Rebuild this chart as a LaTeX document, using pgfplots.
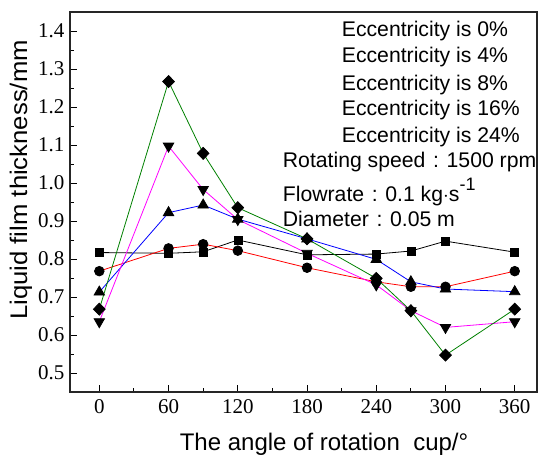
\documentclass[border=0pt]{standalone}
\usepackage{fontspec}
\setmainfont{Liberation Serif}
\newfontfamily\arial{Liberation Sans}
\usepackage{pgfplots}
\pgfplotsset{compat=1.18}
\definecolor{dgreen}{RGB}{0,128,0}
\definecolor{mag}{RGB}{255,0,255}
\begin{document}
\begin{tikzpicture}
\begin{axis}[
  scale only axis, width=467pt, height=380pt,
  xmin=-25.4, xmax=379.3, ymin=0.45, ymax=1.45,
  xtick={0,60,...,360}, minor x tick num=1,
  ytick={0.5,0.6,...,1.41}, minor y tick num=1,
  xtick pos=left, ytick pos=left,
  tick align=inside, major tick length=7pt, minor tick length=4pt,
  axis line style={line width=1.2pt, black!85},
  every tick/.style={black, line width=1pt},
  tick label style={font=\fontsize{21}{24}\selectfont},
  /pgf/number format/assume math mode=true,
  yticklabel style={/pgf/number format/fixed, /pgf/number format/fixed zerofill, /pgf/number format/precision=1, xshift=-2pt},
  xticklabel style={yshift=-4pt},
  xlabel={The angle of rotation\ \ cup/°},
  ylabel={Liquid film thickness/mm},
  xlabel style={font=\arial\fontsize{24}{28}\selectfont, at={(axis description cs:0.544,-0.137)}, anchor=center},
  ylabel style={font=\arial\fontsize{24}{28}\selectfont, xscale=1.07, at={(axis description cs:-0.105,0.558)}, anchor=center},
  clip=false,
  every axis plot/.append style={line width=0.8pt},
]
\coordinate (bl) at (rel axis cs:0,0);
\coordinate (tr) at (rel axis cs:1,1);
% 0%
\addplot[black, mark=square*, mark size=4pt, mark options={fill=black, draw=black, line width=0.5pt}] coordinates {
(0,0.817) (60,0.815) (90,0.819) (120,0.850) (180,0.811) (240,0.813) (270,0.821) (300,0.847) (360,0.818)};
% 4%
\addplot[red, mark=*, mark size=4.8pt, mark options={fill=black, draw=black}] coordinates {
(0,0.768) (60,0.828) (90,0.839) (120,0.822) (180,0.777) (240,0.740) (270,0.727) (300,0.727) (360,0.768)};
% 8%
\addplot[blue, mark=triangle*, mark size=6pt, mark options={fill=black, draw=black}] coordinates {
(0,0.713) (60,0.922) (90,0.942) (120,0.905) (180,0.853) (240,0.799) (270,0.740) (300,0.721) (360,0.714)};
% 16%
\addplot[mag, mark=triangle*, mark size=6pt, mark options={fill=black, draw=black, rotate=180}] coordinates {
(0,0.635) (60,1.097) (90,0.983) (120,0.904) (180,0.815) (240,0.732) (270,0.664) (300,0.620) (360,0.635)};
% 24%
\addplot[dgreen, mark=diamond*, mark size=6pt, mark options={fill=black, draw=black, xscale=1.3}] coordinates {
(0,0.668) (60,1.267) (90,1.078) (120,0.935) (180,0.853) (240,0.749) (270,0.664) (300,0.547) (360,0.668)};
\begin{scope}[every node/.style={font=\arial\fontsize{21.2}{24}\selectfont, anchor=base west, inner sep=0pt}]
\node at (rel axis cs:0.5818,0.9368) {Eccentricity is 0\%};
\node at (rel axis cs:0.5818,0.8658) {Eccentricity is 4\%};
\node at (rel axis cs:0.5818,0.7947) {Eccentricity is 8\%};
\node at (rel axis cs:0.5818,0.7289) {Eccentricity is 16\%};
\node at (rel axis cs:0.5818,0.6579) {Eccentricity is 24\%};
\node at (rel axis cs:0.4555,0.5921) {Rotating speed\makebox[1em]{:}1500 rpm};
\node at (rel axis cs:0.4555,0.5008) {Flowrate\makebox[1em]{:}0.1 kg$\cdot$s\raisebox{0.55em}{\fontsize{18}{20}\selectfont -1}};
\node at (rel axis cs:0.4555,0.4350) {Diameter\makebox[1em]{:}0.05 m};
\end{scope}
\end{axis}
\pgfresetboundingbox
\path ([xshift=-70pt,yshift=-64pt]bl) rectangle ([xshift=1pt,yshift=12pt]tr);
\end{tikzpicture}
\end{document}
